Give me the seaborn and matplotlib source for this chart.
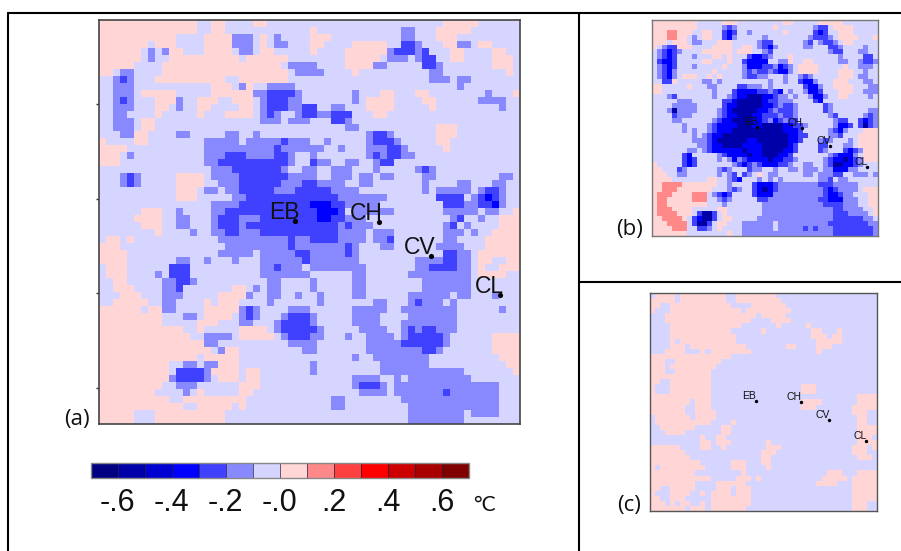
import matplotlib
matplotlib.use("Agg")
import numpy as np
import matplotlib.pyplot as plt
import seaborn as sns
from matplotlib.colors import ListedColormap, BoundaryNorm
from matplotlib.lines import Line2D
from matplotlib.ticker import NullLocator

# cell codes -> anomaly in deg C
codes = {'D': -0.55, 'B': -0.35, 'b': -0.25, 'm': -0.15, '.': -0.05, 'r': 0.05, 'R': 0.15}
bin_edges = [-.7, -.6, -.5, -.4, -.3, -.2, -.1, 0, .1, .2, .3, .4, .5, .6, .7]
bin_colors = ['#000080', '#0000a8', '#0000d0', '#0000ff', '#4040ff', '#8888ff', '#d5d5ff',
              '#ffd5d5', '#ff8888', '#ff4040', '#ff0000', '#cc0000', '#a80000', '#800000']
tick_values = [-.6, -.4, -.2, 0, .2, .4, .6]
tick_labels = ['-.6', '-.4', '-.2', '-.0', '.2', '.4', '.6']
stations = ['EB', 'CH', 'CV', 'CL']
station_x = [0.4656, 0.665, 0.789, 0.952]
station_y = [0.4975, 0.50, 0.584, 0.681]

panel_a = [
"rrrrrrrrrr rrrr..rr.. ..rr...... .......... .........r rrrr......",
"rrrrrrrrrr rrrr..rr.. .......... r......... ...mm...rr rrr.......",
"rrrrrrrrrr r....rrrrm mm.r.m.... rrr....... ...mm...rr r.........",
"rrrrrrr.rr r....rrrrm mm.r.mm... rr....rrrr r..bbm...r rmm.rr....",
"rrrrrr.m.m rr...rrrr. mm.rr..... r....rrrrr rmbbbmb... rr....rr..",
"rrrrrr.m.. rrrrrrrrrr .rrrrrr... .....rrrrr .mmm.mbb.. rr....rrr.",
"rrrrr....r rrrrrrrrrr rrrrrr.mmm m....rrrrm m.....bbm. ......rrr.",
"rr.mm....r rrrrrrrrrr rrrrrrr.mm mm....r... .......mm. ........r.",
"..mbm...rr rrrrrrrr.. rrrrrrr... .......... .......mmm .mm.......",
"..mmm..... ......rrr. mr..mmmm.. .......... .......... .m........",
"..mmm.rrrr r.....rrrr rrmmbbbbm. ......m... rr...rr... .....m...r",
"..mbm...rr rm..rrr..r rr.mbbbmm. ......m.rr rr....rr.. ....mmmm..",
"..mmm...rr .m..rr.... rr.mbbbmmb b..mm...rr rr.....r.. .......m..",
"..mm....r. ....r...rr rr.mbm..mb bmmbbb...r r......... ..........",
"..mmm.rr.. .......... ...mmm.mmm ...bbm.... .......... ..........",
"..mmm.rr.. .......... .......... .....mm... ........rr r.........",
"...mmrr... .mm.....mm ..m....... ........mb bm......rr r.........",
"r....rr... .....mmmmm .mmmmmbmmm ..m.....mb bbm.....rr ..........",
"rrrr...... .....mmmmm mmmmmbmmmm mm..m...mm mbbm.....r ..........",
"rrr.m..... .....mmmbb bmmmmbbm.. m.......mb mbbmm..... ..........",
"rrr....... .....mmbbb bbbbbbbm.. bmm..mm..m bb........ ..........",
".......... ......mmmb bbbbbbm..m m..mmm...m .....mbm.. ..........",
"...mbm.... .rrrr.mmmm bbbbbbbmmm m..mmm.mm. mm....mm.. .......mm.",
"...mbm.... .rrrr..mmm bbbbbbmmmb bmmmm..mm. ......m... .mm...mm..",
".......... .rrr.mm.mm bbbbbmmmbb bbbmmmm... ......m.mm mmm.mbbm..",
".......... .rrr.....m mbbbbbbbbb bbbbmmmmmm m.......bb bb.mbBbm..",
".......... ......mmmm bbbbbbbbbb BBBbbmmmmm .........b bbmmbbBm..",
"......rrr. .m....mmbb bbbbbbbbbb bBBBb.mmmm mm.......m mmmm.mm..r",
".....rrrr. .mm...mbbb mmmbbbbbbb bBBbbmmm.. .......... mb..m..rrr",
"......rrr. .mm...mbbb mbbbbbbbbb bbbbmbmmm. .........m b.m....rrr",
"........r. ...m..mmbb mmmbbbbbbb bbbbmmmm.m mm.......m mm.m..rrrr",
".rr.r..... .......mmm mmmmmmmbmm bbbbmmmm.m mb.......m m....rrrrr",
"rrr....... ........mm mmmmmmmbmm mmmmmbm... mm......mm mm...rrrrr",
"rrrr...... .......mmm mm.mmmmmbb mmmmmbm... .........b bmm.rrrrrr",
"rrrr...... .mm..m...m ...mmmmmmb mmmmmmm... .....mmmmb bmm.rr..rr",
".rrr...... bbb....... ...mmbmmm. mmmmmmmm.. .....mmbbb bmm.r..rrr",
".rrr....m. bbb....... ...mmmmmmm ......mm.. ....mmmmmm mmm.rrrr..",
"..rr.....m mbbm...... ....mm.... m.....mm.. ......mmmm mmm.......",
"..rrr....m mb.......r r.m.mm.... m.....mm.. ......mmmm mmm.......",
"...rrr...m mm.....rrr rm..mm..m. .m....mm.. ....mmmmmm .mm...m...",
"..rrrrr..m m....r.rrr ....m..... .m.......m m...mbmmm. m.........",
"rrrrrr.rrm m....rrrrr mbm....mmm ......mmmm m..mmmmmmm m......m..",
"rrrrrrrrr. ..mm.rrrr. mbm...mbbb m.....mmmm ....mmmmmm m.........",
"rrrrrrrrr. ....rrr... mm...mbbbb m.....mmmm ...mmmmmmm m.........",
"rrrrrrrrrr rr..r..... rrrr.mbbbb bm.....mmm m..mbmbbmm m.........",
"rrrrrrrrrr rrr..mmmm. rrrrr.mbbb mm...m..mm mm.mbbbbbm ......rrrr",
"rrrrrrrrrr rrrrrmm... .......mmm m.......mm mmmbbbbbbm ......rrrr",
"rrrrrrrrrr rrrrrr.mrr .........m m.......mm mmmmmmbbm. ......rrrr",
"rrrrrrrrrr rrrr.rrrrr .......... ......m..m mmmmmmm... .......rrr",
"rrrrrrrrrr ..mm.mmrrr .......... m......... mmmmmmm... ........rr",
"rrrrrrrrrr .bbbbmrrrr .rr....... m......... mmmmmmmmmm mm.......r",
"rrrrrrrrrr mbbbbm.rrr .rr....... ......mmmm ..m.mmmmmm mmm.......",
"rrrrrrrrr. .mmm...... rrr....... ......mbbb m.mmmmmmmm mmmmmmm...",
"rrrrrrrr.. ..m.r..... rr........ .......mmm m.mmmmmmmb mmmmmmm...",
"rrrrrrrrrr ..rrrrrrrr r......... ...mm..... ...mmmmmmm mmmmmmm...",
"rrrrrrrrrr rr..rrrrr. r......... ...mm..... ....mmmmmm mmmmmmm...",
"rrrrr...rr rrrrrrrr.. .......... .......... ....mmmmmm mm.mmmm...",
"rrrrr...rr rrrrrrrr.. .......... .......... ....mmmmmm mm........",
]

panel_b = [
"rrrrrrrrr. ....rrr... ......rr.. ...rrrrr.. .....",
"rrrrrrrrr. ....mbm... ....r..... ..mbb.rrrr .....",
"rrrRRrrr.. rr..bBb..m ......r... ..bBb..rrr .....",
"rrrRRrr.m. rr..bBm... ..m....... .mbbbm.rrr r...r",
"rrr.rrr.mm ...rrr.... .mbb...... mb.mbbm.rr .....",
"r.mbbrrr.. ..rrrr..rr .mbBm..... mm...bbm.. ..m..",
".mbBbm.... rrrrrr.rrr ..mb...... .....mbb.. .mm..",
".mbBb...m. ..rr.r...b BBbm...r.. .......m.. ..bb.",
".bBBb..... rr...r..bB BBB..mmr.. rr.....mm. .mbbm",
".mbBb...m. ....r...mB BBbbmBbm.r rrr.....r. .mmm.",
".mbBm..... ..r.....mb mbbmbBBm.r rrr....rrr ..m..",
".mbBm.rrr. .r.r....mb bmm...m..m bm.....rrr .mm..",
"..bbr..... mm.m...... ...m..m..b BBm...rrr. ..mm.",
"rr.....r.. .mm....bbm mm.m...... bBBm..rrrr ...mm",
"rr........ ..m...bBBB BbbmbB.m.. mBBb...rrr ..mmm",
"...mb..... ..m..mbBBD DDBBbmm.m. .mBBm..rr. ...m.",
".....mmm.. ....bbBDDD DDBbbmmm.. ..bB...... .....",
"....mmmmm. ....bBBDDD DDBBbmbbm. ....bm.... .....",
"...mDmmmm. ...mbBDDDD DBBbmbbbm. ....bm.... ...mm",
"....bmmm.. ...mbBBDDD BBbbbmbbm. .....mb... ..mbm",
"....mm.... ..mbBBDDDD BBbmBbmbb. ......mbb. .bBbm",
"......m... .mbBBBBDDD BBDDDDBBbb m.....mBBb .bDbm",
"......m.m. .mbBBBDDDD DDDDDDBBBb .....mbBm. ..rrr",
"........m. mbBBDDDDDD DDDDDDDBBb b....mmb.. .rrrr",
"........mm mbBDDDDDDB BDDDDDDBBb ...mbm...m .rrrr",
".........m mbBBDDDDBB BBDDDDDBb. ...bb...mm .rrrr",
".......mm. mbBBBBBBDB BBDDDDBBb. ...bm...bB bmrrr",
"......bB.. ...mbBBBBD BBDDDBBb.. .....mbBBB m.rrr",
"......bBb. ...m.mBmbB BBBDBBbbm. ....mbBBDB bmrrr",
"r.....bBb. ......mbBb mbBBBbbm.. mm..mbDDBB bm...",
"rr...bm... ...mbm...b mm..m..mm. mmm.mmBBBm m....",
"rrr..mm... ...m.mb.bm .r.mm..... mm.mmmbb.. mmm.m",
"rrrr...... .rr..mbB.. .m.m.m.... ...mmb.mm. .....",
"rrRRRRrrrr rrr..m.... bBBBbmmmmm mmmbbbmmmm m....",
"rrRRRrrrrr rr...mbm.. bBDBbmmmmm mmmmbBbmmm m.rrr",
"rRRRrrrrRR R.mbBb.... bBBBmmmmmm mmmmbBBbmm ...rr",
"rRRrrrrrRR R..mbm.... .bbmmmmmmm mmmbbBBBmm m..rr",
"rRRrrrrrrr r...m..... ..mmmmmmmm mmmmbbbbmm m..rr",
"rRRRrrrr.. ...rr..... ..mmmmmmmm mmmmmmbbmm mm..r",
"rRRRRrrr.b DDb.r..... ..mmmmmmmm mmmmmmbbbm mmm.r",
"rrRRRRr.bB DDb.rr.... .mmmmmmmmm mmmmmmbbbb bbmm.",
"rrrRRRR.bD Db.rr...mm mmmm.mmmmm mmmmmbbbbb bbbmm",
"rrrrRRR..b bm.r....mm mmmm.mmmmm bmbmmmbbbb bbbbm",
"rrrrrrr... .....r..mm mmmmmmmmmm mmmmmmbbbb bbbbm",
]

panel_c = [
".rrrr.rrrr rrrrr..rrr rrrrr..... .......... .....",
"rrrrr.rrrr rrrrr..rrr rrrrrr.... .......... .....",
"rr..rrrrrr rrrrrr.... rrrrrrr... .......... .....",
"r...rrrrrr rrrrrrrr.r rrrrrrrr.. .......... .....",
"...rrrrrrr rrrrrrrrrr r.rrrrr... .......... .....",
"...rrrrrrr rrrrrrrrrr ....rrrr.. .......... .....",
"....rrrrrr rrrrrrrr.. .....r.... .r........ .....",
"....rrrrrr rrrrrr.... ..r....... ..rr...r.. .....",
"....rrrrrr rrrrrrr... .......... ..rrr.rr.. .....",
"....r.rrrr rrrrrrr... .......... ...rrrrr.. .....",
"....rrr.rr rrrrrrrrr. .......rr. ...rrr.... .....",
"...rrrr... r.rrrrrrrr .......... ...r...... .....",
"rrrrrrrrrr rrrrrr.... .......... .......... .....",
"rrr..rrrrr rrrr...... .......... .......... .....",
"rrr.rrrrrr rrr....... .......... .......... .....",
"rrr..rrrrr rr........ .......... .......... .....",
"rrrrrrrrrr rr........ .......... .......... .....",
"rr..rrrrrr rr........ .......... .......... .....",
"r...rrrrrr rr........ .......... rrr....... .....",
"r...rrrrrr rr........ .......... rrr....... .....",
"rrrrrrrrrr rr........ .......... .......... .rrrr",
"rrrrrrrr.r rr........ .......... rrrr...... .rrrr",
"rrrrrrr..r rr........ .......... rrr....... rrrrr",
"rrrrrrr..r rrr....... .......... .......... rrr..",
".rrrrrrr.r rrr....... .......... .......... .rr..",
".rrrrrrrrr rr....r... .......... .......... .rr..",
"..rrrrrrr. ....rr.... .......... .......... .rrrr",
"...rrrr... ....rr.... .......... .......... .rrrr",
".......... r..rr..... .......... .......... .rrr.",
".......... rr.rrr.... ...r...... .......... .rrrr",
"rrrrrr.... rr..r..... ...rrr.... .......... rrr.r",
"rrrrrrr... .......... ..rrr..... .......... rrr..",
"rrrrrrrr.. .......... ..rr...... .......... .rrr.",
"rrrrrrrrrr ......rrr. ..rr...... .......... .....",
"r.rrrrrrrr r.....rrr. ...r...... .......... .....",
"rrrrrrrrr. ........r. .......... .....rrr.. .rrrr",
"rrrrrrrrrr rr.....rrr .r........ ....rrrrr. rrrrr",
"rrrrrrrrr. ...rrrrrr. .......... ...rrrr... rrrrr",
"rr..rrrrr. ...rrr.rrr .......... .......... rrrrr",
"r...rrrr.. r.rrrr.rrr .......... .......... rrrrr",
"rr..rrr... ..rrrrrrrr .......... .......... rrrrr",
"rrr.r.rr.. r.rrrrrrrr .......... .......... rrr..",
"rrrrrrr.rr r.rrrrrrr. .......... .......... rrr..",
]

def to_values(rows):
    return np.array([[codes[c] for c in row.replace(' ', '')] for row in rows])

W, H = 901, 551
sns.set_theme(style="white")
plt.rcParams['font.family'] = ['Liberation Sans', 'DejaVu Sans']
fig = plt.figure(figsize=(W / 100, H / 100), dpi=100, facecolor='white')

def px_axes(x0, y0, x1, y1):
    return fig.add_axes([x0 / W, 1 - y1 / H, (x1 - x0) / W, (y1 - y0) / H])

cmap = ListedColormap(bin_colors)
norm = BoundaryNorm(bin_edges, cmap.N)

ax_a = px_axes(99, 20, 520, 424)
ax_b = px_axes(652, 20, 878, 236)
ax_c = px_axes(650, 293, 877, 511)
cax = px_axes(90.5, 463, 469, 478)

sns.heatmap(to_values(panel_a), ax=ax_a, cmap=cmap, norm=norm, cbar_ax=cax,
            cbar_kws={'orientation': 'horizontal', 'ticks': tick_values, 'drawedges': True},
            xticklabels=False, yticklabels=False)
sns.heatmap(to_values(panel_b), ax=ax_b, cmap=cmap, norm=norm, cbar=False,
            xticklabels=False, yticklabels=False)
sns.heatmap(to_values(panel_c), ax=ax_c, cmap=cmap, norm=norm, cbar=False,
            xticklabels=False, yticklabels=False)

cb = ax_a.collections[0].colorbar
cb.outline.set_edgecolor('#888888')
cb.outline.set_linewidth(1)
cb.dividers.set_color('#222244')
cb.dividers.set_linewidth(0.5)
cax.set_xticks(tick_values)
cax.set_xticklabels(tick_labels, fontsize=22, color='#111111')
cax.xaxis.set_minor_locator(NullLocator())
cax.tick_params(axis='x', which='both', length=0, width=0, pad=7, bottom=False, top=False)

for ax, col in ((ax_a, '#444444'), (ax_b, '#777777'), (ax_c, '#555555')):
    for s in ax.spines.values():
        s.set_visible(True)
        s.set_edgecolor(col)
        s.set_linewidth(1.2 if ax is ax_a else 1)

ax_a.set_yticks([12, 25.7, 39.2, 52.8])
ax_a.set_yticklabels([])
ax_a.tick_params(axis='y', left=True, length=2, width=1, color='#333333')

def mark(ax, rows, size, dot, dx, dy):
    nrow = len(rows)
    ncol = len(rows[0].replace(' ', ''))
    ax.scatter([x * ncol for x in station_x], [y * nrow for y in station_y],
               s=dot, color='black', zorder=5, linewidths=0)
    for name, x, y in zip(stations, station_x, station_y):
        ax.annotate(name, (x * ncol, y * nrow), xytext=(dx, dy), textcoords='offset points',
                    ha='right', va='baseline', fontsize=size, color='#111111', zorder=6)

mark(ax_a, panel_a, 16.5, 14, 3, 1.5)
mark(ax_b, panel_b, 7.5, 6, 0.3, 1.5)
mark(ax_c, panel_c, 7.5, 6, 0.3, 1.5)

for label, x, y in (('(a)', 77, 419), ('(b)', 630, 229), ('(c)', 629, 505)):
    fig.text(x / W, 1 - y / H, label, fontsize=16, family='Open Sans', ha='center', va='center', color='#111111')
fig.text(484 / W, 1 - 505 / H, '°C', fontsize=15, family='Lato', ha='center', va='center', color='#111111')

for (x0, y0, x1, y1) in ((8, 13, 901, 13), (8, 13, 8, 551), (578.5, 13, 578.5, 551), (578.5, 282, 901, 282)):
    fig.add_artist(Line2D([x0 / W, x1 / W], [1 - y0 / H, 1 - y1 / H], color='black', lw=1.5,
                          transform=fig.transFigure))

fig.savefig('out.png', dpi=100, facecolor='white')
